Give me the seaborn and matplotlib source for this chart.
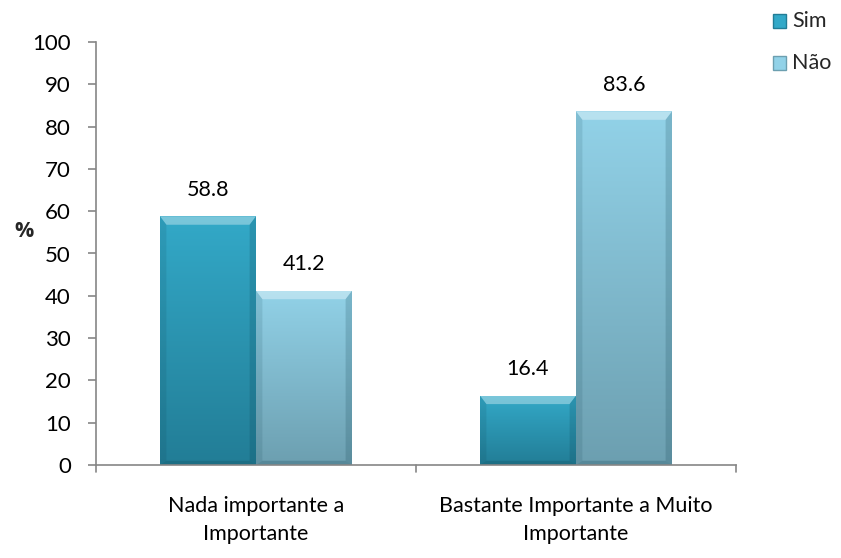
import numpy as np
import pandas as pd
import matplotlib
matplotlib.use("Agg")
import matplotlib.pyplot as plt
import seaborn as sns
from matplotlib.colors import LinearSegmentedColormap

categories = ["Nada importante a\nImportante", "Bastante Importante a Muito\nImportante"]
series = ["Sim", "Não"]
sim_values = [58.8, 16.4]
nao_values = [41.2, 83.6]
y_ticks = [0, 10, 20, 30, 40, 50, 60, 70, 80, 90, 100]

df = pd.DataFrame({
    "cat": categories * 2,
    "serie": ["Sim"] * 2 + ["Não"] * 2,
    "val": sim_values + nao_values,
})

sns.set_theme(style="white")
plt.rcParams['font.family'] = ['Lato', 'DejaVu Sans']

top_cols = {"Sim": "#33a9c8", "Não": "#92d2e8"}
bot_cols = {"Sim": "#227d96", "Não": "#6c9fb0"}

FS = 15.5

fig = plt.figure(figsize=(8.41, 5.58), dpi=100)
ax = fig.add_axes([96/841, 93/558, 640/841, 423/558])
sns.barplot(data=df, x="cat", y="val", hue="serie", hue_order=series,
            palette=[top_cols["Sim"], top_cols["Não"]], width=0.6, ax=ax,
            legend=False, saturation=1)

ax.set_ylim(0, 100)
ax.set_xlim(-0.5, 1.5)
ax.set_yticks(y_ticks)
ax.set_yticklabels([str(t) for t in y_ticks], fontsize=16, color="#000000")
ax.set_xticks([])
ax.set_xlabel("")
ax.set_ylabel("")
for s in ["top", "right"]:
    ax.spines[s].set_visible(False)
for s in ["left", "bottom"]:
    ax.spines[s].set_color("#868686")
    ax.spines[s].set_linewidth(1.2)
ax.tick_params(axis="y", length=6, width=1.2, color="#868686", direction="out",
               left=True, pad=12)

# gradient fill for bars
grad = np.linspace(0, 1, 256).reshape(-1, 1)
for container, name in zip(ax.containers, series):
    cmap = LinearSegmentedColormap.from_list(name, [bot_cols[name], top_cols[name]])
    for bar in container:
        x0, y0 = bar.get_x(), bar.get_y()
        w, h = bar.get_width(), bar.get_height()
        im = ax.imshow(grad, extent=[x0, x0 + w, y0, y0 + h], origin="lower",
                       cmap=cmap, aspect="auto", zorder=bar.get_zorder() + 0.1)
        im.set_clip_path(bar)
        z = bar.get_zorder()
        # bevel: light top band, darker side/bottom bands
        ax.fill([x0, x0 + w, x0 + w - 0.02, x0 + 0.02],
                [y0 + h, y0 + h, y0 + h - 2.0, y0 + h - 2.0],
                color="white", alpha=0.35, lw=0, zorder=z + 0.2)
        ax.fill([x0 + w, x0 + w, x0 + w - 0.02, x0 + w - 0.02],
                [y0 + h, y0, y0 + 1.0, y0 + h - 2.0],
                color="#0b3a48", alpha=0.18, lw=0, zorder=z + 0.2)
        ax.fill([x0, x0, x0 + 0.02, x0 + 0.02],
                [y0 + h, y0, y0 + 1.0, y0 + h - 2.0],
                color="#0b3a48", alpha=0.12, lw=0, zorder=z + 0.2)
        ax.fill([x0, x0 + w, x0 + w - 0.02, x0 + 0.02],
                [y0, y0, y0 + 1.0, y0 + 1.0],
                color="#0b3a48", alpha=0.22, lw=0, zorder=z + 0.2)
        ax.text(x0 + w / 2, y0 + h + 6.2, f"{h:.1f}", ha="center", va="center",
                fontsize=FS, color="#000000")

ax.set_xlim(-0.5, 1.5)
ax.set_ylim(0, 100)

# x tick marks between categories
for xt in [-0.5, 0.5, 1.5]:
    ax.plot([xt, xt], [0, -1.7], color="#868686", lw=1.2, clip_on=False)

# category labels
for i, c in enumerate(categories):
    ax.text(i, -7.3, c, ha="center", va="top", fontsize=FS, color="#000000",
            linespacing=1.5)

fig.text(24/841, 1 - 232/558, "%", ha="center", va="center", fontsize=FS,
         fontweight="bold", family=["Open Sans", "DejaVu Sans"])

# legend
for name, yy in zip(series, [21, 63]):
    fig.patches.append(plt.Rectangle((773/841, 1 - (yy + 6.5)/558), 13/841, 13/558,
                                     transform=fig.transFigure, facecolor=top_cols[name],
                                     edgecolor=bot_cols[name], lw=1.0))
    fig.text(792/841, 1 - yy/558, name, ha="left", va="center", fontsize=FS)

fig.savefig("out.png", dpi=100)
